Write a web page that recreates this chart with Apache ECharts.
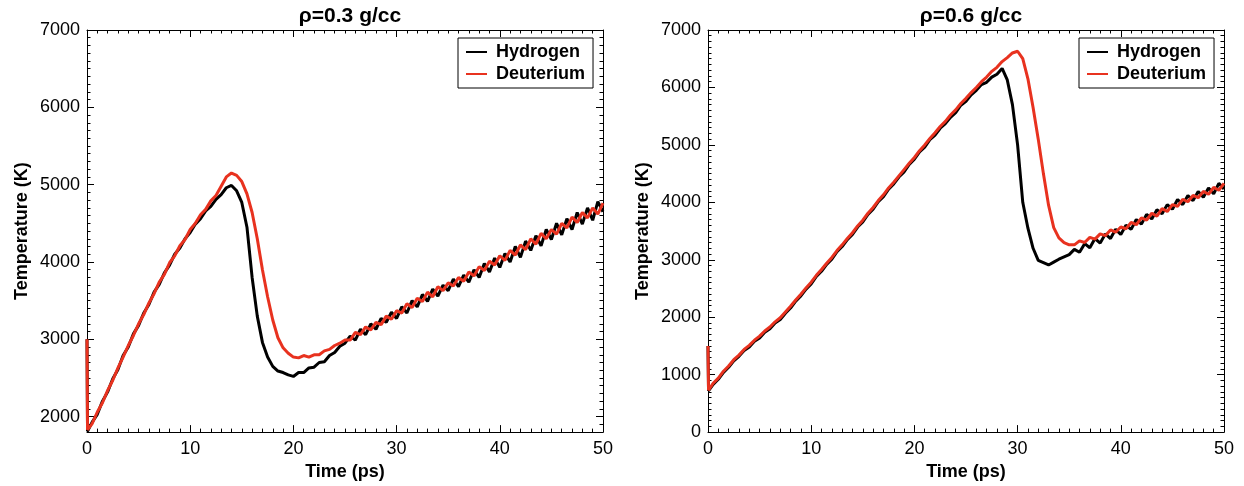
<!DOCTYPE html>
<html><head><meta charset="utf-8">
<script src="https://cdn.jsdelivr.net/npm/echarts@6/dist/echarts.min.js"></script>
<style>html,body{margin:0;padding:0;background:#fff}#c{width:1244px;height:486px}</style>
</head><body><div id="c"></div>
<script>
// time samples (ps)
const times = [0, 0.05,
 0.5,1,1.5,2,2.5,3,3.5,4,4.5,5,
 5.5,6,6.5,7,7.5,8,8.5,9,9.5,10,
 10.5,11,11.5,12,12.5,13,13.5,14,14.5,15,
 15.5,16,16.5,17,17.5,18,18.5,19,19.5,20,
 20.5,21,21.5,22,22.5,23,23.5,24,24.5,25,
 25.5,26,26.5,27,27.5,28,28.5,29,29.5,30,
 30.5,31,31.5,32,32.5,33,33.5,34,34.5,35,
 35.5,36,36.5,37,37.5,38,38.5,39,39.5,40,
 40.5,41,41.5,42,42.5,43,43.5,44,44.5,45,
 45.5,46,46.5,47,47.5,48,48.5,49,49.5,50];

// rho = 0.3 g/cc
const hydrogen03 = [3000, 1810,
 1930,2030,2200,2320,2490,2610,2790,2900,3070,3180,
 3340,3450,3610,3710,3860,3960,4100,4180,4300,4380,
 4490,4560,4660,4720,4810,4870,4960,4990,4920,4770,
 4450,3800,3300,2960,2770,2650,2590,2570,2540,2520,
 2570,2570,2630,2640,2700,2710,2790,2830,2910,2950,
 3040,2990,3130,3060,3200,3130,3270,3220,3350,3270,
 3420,3340,3500,3420,3580,3490,3650,3560,3700,3630,
 3780,3680,3830,3740,3900,3800,3980,3870,4050,3930,
 4110,4000,4200,4060,4270,4150,4340,4210,4420,4290,
 4500,4350,4560,4420,4640,4490,4700,4540,4780,4650];
const deuterium03 = [3000, 1830,
 1910,2060,2180,2340,2470,2630,2770,2920,3050,3200,
 3320,3470,3590,3740,3840,3990,4080,4210,4290,4420,
 4500,4610,4680,4790,4860,4980,5100,5150,5120,5040,
 4880,4640,4300,3900,3550,3250,3020,2890,2820,2770,
 2760,2790,2770,2800,2800,2850,2870,2920,2950,2990,
 2990,3090,3060,3160,3120,3220,3190,3300,3260,3370,
 3340,3460,3410,3530,3490,3610,3550,3680,3630,3730,
 3690,3800,3750,3870,3820,3940,3890,4010,3960,4080,
 4020,4150,4090,4220,4160,4300,4230,4370,4300,4420,
 4360,4500,4440,4580,4510,4640,4570,4700,4620,4760];

// rho = 0.6 g/cc
const hydrogen06 = [1500, 720,
 830,920,1040,1130,1240,1320,1420,1480,1580,1640,
 1740,1800,1900,1960,2070,2160,2280,2370,2490,2580,
 2710,2800,2920,3010,3140,3230,3350,3440,3570,3660,
 3790,3880,4010,4100,4230,4320,4440,4530,4660,4750,
 4880,4960,5090,5170,5290,5370,5480,5560,5690,5760,
 5870,5950,6050,6090,6180,6230,6330,6130,5700,5000,
 4000,3550,3200,2990,2950,2910,2960,3010,3050,3090,
 3180,3130,3280,3210,3370,3290,3450,3370,3530,3440,
 3600,3530,3700,3620,3790,3710,3870,3800,3960,3880,
 4050,3960,4120,4030,4190,4090,4250,4150,4330,4230];
const deuterium06 = [1500, 730,
 850,940,1060,1150,1260,1340,1440,1510,1600,1670,
 1760,1830,1920,1990,2090,2190,2300,2400,2510,2610,
 2730,2830,2940,3040,3160,3260,3370,3470,3590,3690,
 3810,3910,4030,4130,4250,4350,4460,4570,4680,4780,
 4900,5000,5110,5210,5320,5410,5520,5610,5720,5810,
 5910,6000,6100,6180,6280,6350,6450,6520,6600,6630,
 6500,6150,5650,5100,4500,3950,3560,3380,3300,3260,
 3260,3330,3300,3390,3360,3450,3420,3520,3480,3570,
 3540,3650,3610,3730,3690,3810,3760,3890,3840,3960,
 3930,4050,4010,4120,4080,4190,4140,4260,4210,4330];

const seriesNames = ['Hydrogen', 'Deuterium'];
const titles = ['\u03c1=0.3 g/cc', '\u03c1=0.6 g/cc'];
const yTicks03 = [2000, 3000, 4000, 5000, 6000, 7000];
const yTicks06 = [0, 1000, 2000, 3000, 4000, 5000, 6000, 7000];
const yRange03 = [1800, 7000];
const yRange06 = [0, 7000];
const xRange = [0, 50];

const font = 'Liberation Sans, Arial, Helvetica, sans-serif';
const colors = ['#000000', '#e8321f'];

function minorList(a, b, step) {
  const out = [];
  for (let v = a; v <= b + 1e-9; v += step) out.push(Math.round(v));
  return out;
}

const grids = [
  {left: 87, right: 641, top: 30, bottom: 51},
  {left: 708, right: 20, top: 30, bottom: 51}
];

function xAxesFor(gi) {
  const base = {type: 'value', gridIndex: gi, min: xRange[0], max: xRange[1], interval: 10,
    splitLine: {show: false},
    axisLine: {show: true, onZero: false, lineStyle: {color: '#000', width: 1}},
    axisTick: {show: true, inside: true, length: 7, lineStyle: {color: '#000', width: 1}},
    minorTick: {show: true, splitNumber: 10, length: 3.5, lineStyle: {color: '#000', width: 1}}};
  return [
    Object.assign({}, base, {position: 'bottom', name: 'Time (ps)', nameLocation: 'middle', nameGap: 30,
      nameTextStyle: {fontFamily: font, fontWeight: 'bold', fontSize: 18, color: '#000'},
      axisLabel: {fontFamily: font, fontSize: 18, color: '#000', margin: 8}}),
    Object.assign({}, base, {position: 'top', axisLabel: {show: false}})
  ];
}

function yAxesFor(gi, range, major) {
  const minor = minorList(range[0], range[1], 100);
  const base = {type: 'value', gridIndex: gi, min: range[0], max: range[1],
    splitLine: {show: false},
    axisLine: {show: true, onZero: false, lineStyle: {color: '#000', width: 1}}};
  const majorTick = {show: true, customValues: major, inside: true, length: 7, lineStyle: {color: '#000', width: 1}};
  const minorTick = {show: true, customValues: minor, inside: true, length: 3.5, lineStyle: {color: '#000', width: 1}};
  const hiddenLine = {show: false, onZero: false};
  return [
    Object.assign({}, base, {position: 'left', name: 'Temperature (K)', nameLocation: 'middle', nameGap: 56,
      nameTextStyle: {fontFamily: font, fontWeight: 'bold', fontSize: 18, color: '#000'},
      axisLabel: {customValues: major, fontFamily: font, fontSize: 18, color: '#000', margin: 7,
        formatter: v => String(v)},
      axisTick: majorTick}),
    Object.assign({}, base, {position: 'right', axisLabel: {show: false}, axisTick: majorTick}),
    Object.assign({}, base, {position: 'left', axisLine: hiddenLine, axisLabel: {show: false}, axisTick: minorTick}),
    Object.assign({}, base, {position: 'right', axisLine: hiddenLine, axisLabel: {show: false}, axisTick: minorTick})
  ];
}

function pairs(vals) { return times.map((t, i) => [t, vals[i]]); }

function legendFor(left) {
  return {left: left, top: 38, orient: 'vertical', backgroundColor: '#fff',
    borderColor: '#000', borderWidth: 1, borderRadius: 0, padding: [5, 8, 5, 8],
    itemGap: 4, itemWidth: 21, itemHeight: 2, icon: 'rect', selectedMode: false,
    textStyle: {fontFamily: font, fontWeight: 'bold', fontSize: 18, color: '#000', padding: [0, 0, 0, 4]},
    data: seriesNames};
}

function lineSeries(name, color, xi, yi, vals) {
  return {type: 'line', name: name, xAxisIndex: xi, yAxisIndex: yi, data: pairs(vals),
    symbol: 'none', showSymbol: false, color: color,
    lineStyle: {color: color, width: 3}, itemStyle: {color: color}, z: 3};
}

const option = {
  animation: false,
  backgroundColor: '#fff',
  title: [
    {text: titles[0], left: 345, top: 1, textAlign: 'center',
      textStyle: {fontFamily: font, fontWeight: 'bold', fontSize: 21, color: '#000'}},
    {text: titles[1], left: 966, top: 1, textAlign: 'center',
      textStyle: {fontFamily: font, fontWeight: 'bold', fontSize: 21, color: '#000'}}
  ],
  legend: [legendFor(458), legendFor(1079)],
  grid: grids,
  xAxis: [].concat(xAxesFor(0), xAxesFor(1)),
  yAxis: [].concat(yAxesFor(0, yRange03, yTicks03), yAxesFor(1, yRange06, yTicks06)),
  series: [
    lineSeries(seriesNames[0], colors[0], 0, 0, hydrogen03),
    lineSeries(seriesNames[1], colors[1], 0, 0, deuterium03),
    lineSeries(seriesNames[0], colors[0], 2, 4, hydrogen06),
    lineSeries(seriesNames[1], colors[1], 2, 4, deuterium06)
  ]
};

echarts.init(document.getElementById('c'), null, {renderer: 'canvas'}).setOption(option);
</script>
</body></html>
